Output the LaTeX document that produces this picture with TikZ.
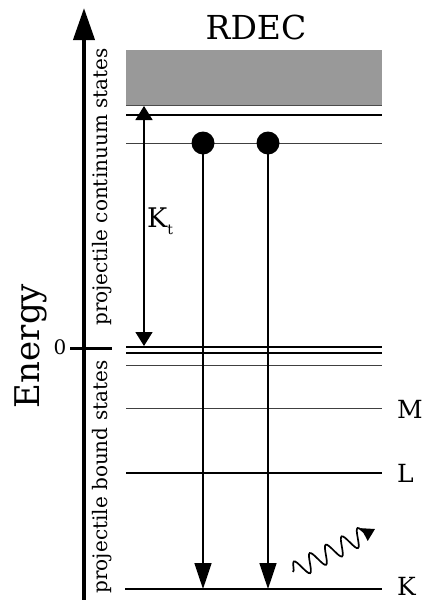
\documentclass[tikz,border=0pt]{standalone}
\usepackage{fontspec}
\setmainfont{DejaVu Serif}
\usetikzlibrary{arrows.meta,decorations.pathmorphing}
\begin{document}
\begin{tikzpicture}[x=1pt,y=-1pt,
  level/.style={line width=1pt, draw=black!75},
  thicklevel/.style={line width=2.2pt},
  lbl/.style={anchor=west, inner sep=0pt, font=\fontsize{25}{25}\selectfont},
  sidelbl/.style={rotate=90, inner sep=0pt, font=\fontsize{20}{20}\selectfont},
  dotnode/.style={circle, fill=black, minimum size=23pt, inner sep=0pt},
  trans/.style={line width=1.6pt, -{Triangle[width=17pt,length=26pt]}},
]
\useasboundingbox (0,0) rectangle (422,600);

% continuum band
\fill[black!40] (126,50) rectangle (382,106);
\draw[line width=1pt, black!70] (126,105.5) -- (382,105.5);

% energy levels
\coordinate (cA) at (126,115); \coordinate (cB) at (382,115);
\draw[thicklevel] (cA) -- (cB);
\coordinate (eA) at (126,143); \coordinate (eB) at (382,143);
\draw[level] (eA) -- (eB);
\coordinate (z1A) at (126,347); \coordinate (z1B) at (382,347);
\draw[line width=2pt] (z1A) -- (z1B);
\coordinate (z2A) at (126,352.5); \coordinate (z2B) at (382,352.5);
\draw[line width=2pt] (z2A) -- (z2B);
\coordinate (nA) at (126,365); \coordinate (nB) at (382,365);
\draw[level] (nA) -- (nB);
\coordinate (mA) at (126,408); \coordinate (mB) at (382,408);
\draw[level] (mA) -- (mB);
\coordinate (lA) at (126,473); \coordinate (lB) at (382,473);
\draw[line width=1.6pt] (lA) -- (lB);
\coordinate (kA) at (125,589); \coordinate (kB) at (382,589);
\draw[line width=2pt] (kA) -- (kB);

\node[lbl] (M) at (397,409) {M};
\node[lbl] (L) at (397,473) {L};
\node[lbl] (K) at (397,586) {K};

% energy axis
\coordinate (axbot) at (84,600);
\coordinate (axtop) at (84,8);
\draw[line width=4pt, -{Triangle[width=21pt,length=32pt]}] (axbot) -- (axtop);
\coordinate (t0) at (70,348); \coordinate (t1) at (112,348);
\draw[line width=3pt] (t0) -- (t1);
\node[inner sep=0pt, font=\fontsize{20}{20}\selectfont] (zero) at (60,347) {0};
\node[rotate=90, inner sep=0pt, font=\fontsize{34}{34}\selectfont] (energy) at (31,346) {Energy};

\node[sidelbl] (cont) at (102,187) {projectile continuum states};
\node[sidelbl] (bound) at (102,477) {projectile bound states};

\node[inner sep=0pt, font=\fontsize{33}{33}\selectfont] (title) at (256,27) {RDEC};

% kinetic energy span
\coordinate (ktop) at (144,106);
\coordinate (kbot) at (144,346);
\draw[line width=1.6pt, {Triangle[width=17pt,length=14pt]}-{Triangle[width=17pt,length=14pt]}] (ktop) -- (kbot);
\node[inner sep=0pt, anchor=west, font=\fontsize{27}{27}\selectfont] (kt) at (147,221) {K\raisebox{-7pt}{\fontsize{14}{14}\selectfont t}};

% electrons and their transitions
\node[dotnode] (d1) at (203,143) {};
\node[dotnode] (d2) at (268,143) {};
\coordinate (f1) at (203,589);
\coordinate (f2) at (268,589);
\draw[trans] (d1.center) -- (f1);
\draw[trans] (d2.center) -- (f2);

% emitted photon
\coordinate (ph0) at (293,572);
\coordinate (ph1) at (375,529);
\draw[line width=1.7pt, decorate, decoration={snake, segment length=18pt, amplitude=9pt, post length=9pt},
  -{Triangle[width=14pt,length=12pt]}] (ph0) -- (ph1);
\end{tikzpicture}
\end{document}
